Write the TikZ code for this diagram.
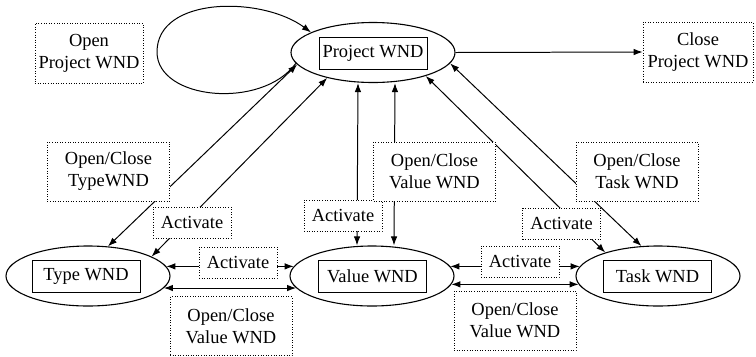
\documentclass[tikz,border=0pt]{standalone}
\usepackage{fontspec}
\setmainfont{Liberation Serif}
\usetikzlibrary{shapes.geometric,arrows.meta}

\begin{document}
\begin{tikzpicture}[x=1bp,y=-1bp,>={Latex[length=9bp,width=6.5bp]},
    font=\fontsize{18.5}{22}\selectfont,
    wnd/.style={draw,ellipse,line width=1.1pt,minimum width=164bp,minimum height=60bp,inner sep=0pt},
    wndbox/.style={draw,line width=1pt,minimum width=108bp,minimum height=32bp,inner sep=1bp},
    lbl/.style={draw,dotted,line width=0.6pt,fill=white,align=center,inner sep=2bp,minimum width=122bp,minimum height=59bp},
    act/.style={lbl,minimum width=78bp,minimum height=31bp},
    link/.style={<->,line width=1pt}]
  \useasboundingbox (0,0) rectangle (756,356);
  % windows
  \node[wnd] (proj) at (373,52.5) {};
  \node[wndbox] (projbox) at (373,53) {Project WND};
  \node[wnd] (type) at (88,276) {};
  \node[wndbox] (typebox) at (86,276) {Type WND};
  \node[wnd] (value) at (372,276) {};
  \node[wndbox] (valuebox) at (372.5,276) {Value WND};
  \node[wnd] (task) at (658,276) {};
  \node[wndbox] (taskbox) at (657.5,276) {Task WND};
  \node[lbl,minimum width=108bp,minimum height=60bp] (openp) at (89,53) {Open\\Project WND};
  \node[lbl,minimum width=110bp,minimum height=60bp] (closep) at (698,52) {Close\\Project WND};
  % connectors
  \draw[->,line width=1pt] (proj.188) .. controls (262,110) and (157,100) .. (157,52)
        .. controls (157,-4) and (262,-4) .. (proj.162);
  \draw[->,line width=1pt] (proj.east) -- (closep.west);
  \draw[link] (type.56) -- (proj.189);
  \draw[link] (type.17) -- (proj.209);
  \draw[link] ([xshift=-15bp]value.north) -- ([xshift=-15bp]proj.south);
  \draw[link] ([xshift=22bp]value.north) -- ([xshift=22bp]proj.south);
  \draw[link] (task.156) -- (proj.-24);
  \draw[link] (task.119) -- (proj.-8);
  \draw[link] (type.7) -- (value.173);
  \draw[link] (type.-9) -- (value.189);
  \draw[link] (value.7) -- (task.173);
  \draw[link] (value.-6) -- (task.186);
  % labels
  \node[lbl] (octype) at (108.5,171.5) {Open/Close\\TypeWND};
  \node[act] (acttype) at (192,222.5) {Activate};
  \node[act] (actvalue) at (343,215.5) {Activate};
  \node[lbl] (ocvalue) at (434.5,171.5) {Open/Close\\Value WND};
  \node[lbl] (octask) at (637,171.5) {Open/Close\\Task WND};
  \node[act] (acttask) at (561.5,223.5) {Activate};
  \node[act] (acttv) at (238,262.5) {Activate};
  \node[lbl] (octv) at (231,326) {Open/Close\\Value WND};
  \node[act] (actvk) at (520,261.5) {Activate};
  \node[lbl] (ocvk) at (515,320.5) {Open/Close\\Value WND};
\end{tikzpicture}
\end{document}
